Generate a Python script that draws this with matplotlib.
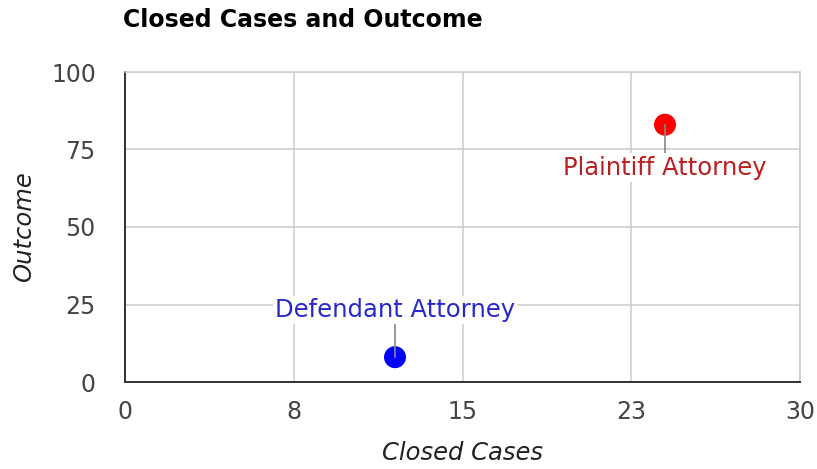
import matplotlib
matplotlib.use("Agg")
import matplotlib.pyplot as plt

# data
groups = ["Plaintiff Attorney", "Defendant Attorney"]
closed_cases = [24, 12]
outcome = [83, 8]
point_colors = ["#ff0000", "#0000ff"]
label_colors = ["#bb1f1f", "#2828cc"]
label_offsets = [(0, -31), (0, 34)]

x_ticks = [0, 7.5, 15, 22.5, 30]
x_tick_labels = ["0", "8", "15", "23", "30"]
y_ticks = [0, 25, 50, 75, 100]

plt.rcParams["font.family"] = ["DejaVu Sans"]

fig = plt.figure(figsize=(8.17, 4.69), dpi=100)
ax = fig.add_axes([125 / 817, 1 - 382 / 469, 675 / 817, 310 / 469])

ax.scatter(closed_cases, outcome, s=250, c=point_colors, zorder=3, linewidths=0)

for name, x, y, tc, off in zip(groups, closed_cases, outcome, label_colors, label_offsets):
    ax.annotate(name, xy=(x, y), xytext=off, textcoords="offset points",
                ha="center", va="center", color=tc, fontsize=17.5, zorder=4,
                bbox=dict(boxstyle="square,pad=0.1", fc="white", ec="none"),
                arrowprops=dict(arrowstyle="-", color="#888888", lw=1.2,
                                shrinkA=0, shrinkB=0))

ax.set_xlim(0, 30)
ax.set_ylim(0, 100)
ax.set_xticks(x_ticks)
ax.set_xticklabels(x_tick_labels)
ax.set_yticks(y_ticks)
ax.tick_params(length=0, labelsize=17, colors="#444444")
ax.tick_params(axis="x", pad=13)
ax.tick_params(axis="y", pad=21)
ax.grid(color="#cccccc", lw=1.1)
ax.set_axisbelow(True)

for side in ["left", "bottom"]:
    ax.spines[side].set_color("#333333")
    ax.spines[side].set_linewidth(1.4)
    ax.spines[side].set_zorder(2.5)
for side in ["top", "right"]:
    ax.spines[side].set_color("#cccccc")
    ax.spines[side].set_linewidth(1.1)

ax.set_xlabel("Closed Cases", fontsize=17.5, style="italic", color="#222222", labelpad=12)
ax.set_ylabel("Outcome", fontsize=17.5, style="italic", color="#222222", labelpad=11)

fig.text(123 / 817, 1 - 27 / 469, "Closed Cases and Outcome", fontsize=17,
         fontweight="bold", color="#000000", ha="left", va="baseline")

fig.savefig("out.png", dpi=100)
